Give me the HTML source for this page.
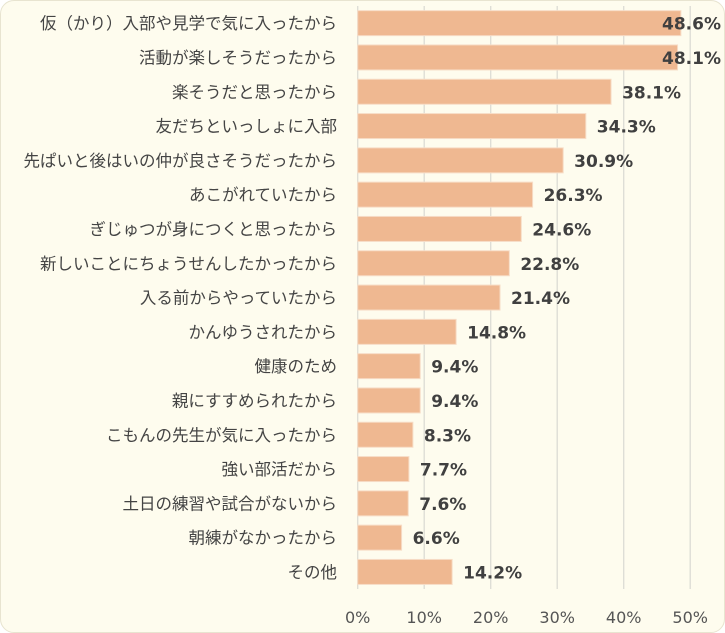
<!DOCTYPE html>
<html><head><meta charset="utf-8"><style>
html,body{margin:0;padding:0;background:#fff;}
#wrap{position:absolute;left:0;top:0;width:723px;height:631px;background:#fefcee;border:1px solid #e8e4d0;border-radius:14px;overflow:hidden;}
svg{position:absolute;left:0;top:0;}
text{font-family:"Liberation Sans","Noto Sans CJK JP",sans-serif;}
.num{font-family:"DejaVu Sans","Liberation Sans",sans-serif;}
</style></head><body>
<div id="wrap">
<svg id="chart" width="725" height="633"></svg>
</div>
<script>
const categories=["仮（かり）入部や見学で気に入ったから","活動が楽しそうだったから","楽そうだと思ったから","友だちといっしょに入部","先ぱいと後はいの仲が良さそうだったから","あこがれていたから","ぎじゅつが身につくと思ったから","新しいことにちょうせんしたかったから","入る前からやっていたから","かんゆうされたから","健康のため","親にすすめられたから","こもんの先生が気に入ったから","強い部活だから","土日の練習や試合がないから","朝練がなかったから","その他"];
const values=[48.6,48.1,38.1,34.3,30.9,26.3,24.6,22.8,21.4,14.8,9.4,9.4,8.3,7.7,7.6,6.6,14.2];
const ticks=[0,10,20,30,40,50];
const NS="http://www.w3.org/2000/svg";
const svg=document.getElementById('chart');
const x0=356.7,pxPer=6.65,rowTop=5,rowH=34.3,barH=25;
const xs=v=>x0+v*pxPer;
const ys=i=>rowTop+i*rowH+(rowH-barH)/2;
function mk(t,a){const e=document.createElementNS(NS,t);for(const k in a)e.setAttribute(k,a[k]);svg.appendChild(e);return e;}
ticks.forEach(t=>{
 const g=mk('line',{x1:xs(t),x2:xs(t),y1:5,y2:588,stroke:'#dcdcd4','stroke-width':1.3});
 
 
 const l=mk('text',{x:xs(t),y:622,'text-anchor':'middle','font-size':16,fill:'#555','class':'num'});
 l.textContent=t+'%';
 
 
});
categories.forEach((c,i)=>{
 const y=ys(i);
 const b=mk('rect',{x:x0,y:y,width:xs(values[i])-x0,height:barH,fill:'#efb891',stroke:'#f7dcc6','stroke-width':1});
 
 
 const l=mk('text',{x:336,y:y+barH/2+6,'text-anchor':'end','font-size':16.5,fill:'#444'});
 l.textContent=c;
 
 
 const v=mk('text',{x:xs(values[i])+11,y:y+barH/2+6.5,'font-size':17,'font-weight':'bold',fill:'#404040','class':'num'});
 v.textContent=values[i].toFixed(1)+'%';
 
 
 const w=v.getComputedTextLength();
 if(xs(values[i])+11+w>720){v.setAttribute('x',720-w);}
});
</script>
</body></html>
